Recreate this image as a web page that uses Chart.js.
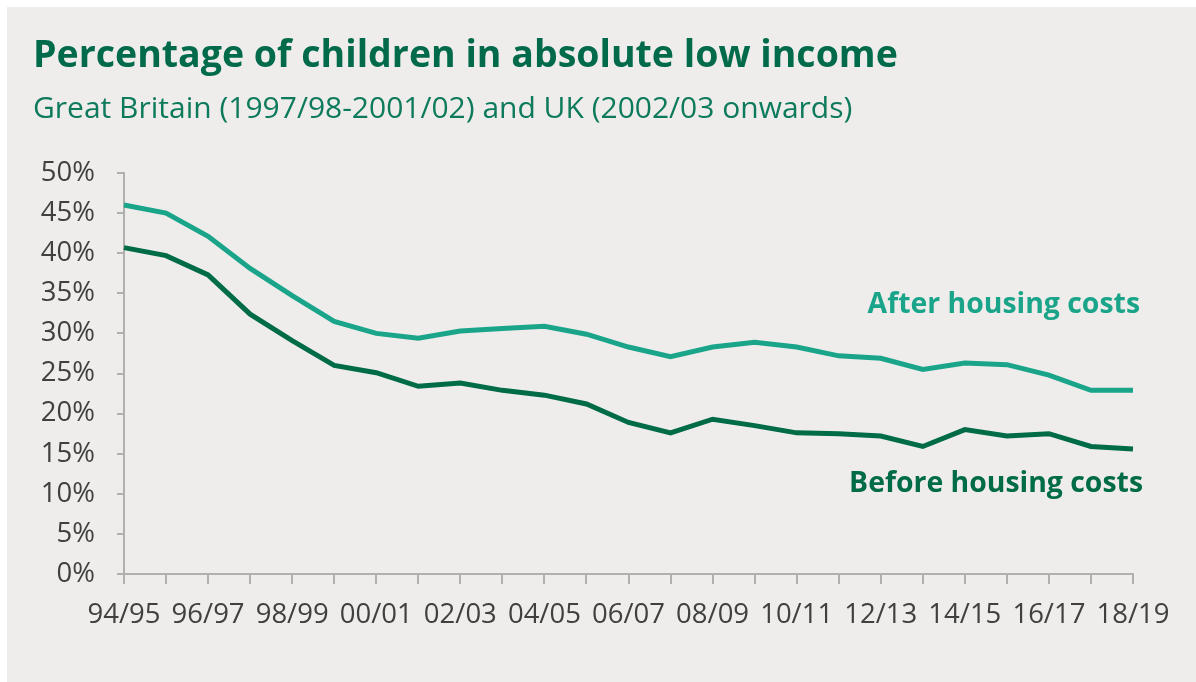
<!DOCTYPE html>
<html>
<head>
<meta charset="utf-8">
<script src="https://cdn.jsdelivr.net/npm/chart.js@4"></script>
<style>
    html, body { margin: 0; padding: 0; background: #ffffff; }
    #wrap { width: 1196px; height: 682px; position: relative; }
</style>
</head>
<body>
<div id="wrap"><canvas id="povertyChart" width="1196" height="682"></canvas></div>
<script>
const years = ['94/95', '95/96', '96/97', '97/98', '98/99', '99/00', '00/01', '01/02', '02/03', '03/04',
    '04/05', '05/06', '06/07', '07/08', '08/09', '09/10', '10/11', '11/12', '12/13', '13/14',
    '14/15', '15/16', '16/17', '17/18', '18/19'];
const afterHousingCosts = [46.0, 45.0, 42.1, 38.1, 34.7, 31.5, 30.0, 29.4, 30.3, 30.6,
    30.9, 29.9, 28.3, 27.1, 28.3, 28.9, 28.3, 27.2, 26.9, 25.5,
    26.3, 26.1, 24.8, 22.9, 22.9];
const beforeHousingCosts = [40.7, 39.7, 37.3, 32.4, 29.1, 26.0, 25.1, 23.4, 23.8, 22.9,
    22.3, 21.2, 18.9, 17.6, 19.3, 18.5, 17.6, 17.5, 17.2, 15.9,
    18.0, 17.2, 17.5, 15.9, 15.6];
const yTicks = [0, 5, 10, 15, 20, 25, 30, 35, 40, 45, 50];

const teal = '#1aa58a';
const darkGreen = '#006b47';
const axisGrey = '#b0b0b0';

const panelPlugin = {
    id: 'panel',
    beforeDraw(chart) {
        const ctx = chart.ctx;
        ctx.save();
        ctx.fillStyle = '#ffffff';
        ctx.fillRect(0, 0, chart.width, chart.height);
        ctx.fillStyle = '#eeedeb';
        ctx.fillRect(7, 7, chart.width - 7, chart.height - 7);
        ctx.restore();
    }
};

const textPlugin = {
    id: 'texts',
    afterDraw(chart) {
        const ctx = chart.ctx;
        ctx.save();
        ctx.textBaseline = 'alphabetic';

        ctx.textAlign = 'left';
        ctx.fillStyle = '#006a4b';
        ctx.font = 'bold 37.5px "Open Sans"';
        ctx.fillText('Percentage of children in absolute low income', 33, 67);

        ctx.fillStyle = '#0d7a5c';
        ctx.font = '30px "Open Sans"';
        ctx.fillText('Great Britain (1997/98-2001/02) and UK (2002/03 onwards)', 33, 118);

        ctx.textAlign = 'right';
        ctx.font = 'bold 28.4px "Open Sans"';
        ctx.fillStyle = teal;
        ctx.fillText('After housing costs', 1140, 313);
        ctx.fillStyle = darkGreen;
        ctx.fillText('Before housing costs', 1143, 492);
        ctx.restore();
    }
};

new Chart(document.getElementById('povertyChart'), {
    type: 'line',
    data: {
        labels: years,
        datasets: [
            {
                label: 'After housing costs',
                data: afterHousingCosts,
                borderColor: teal,
                borderWidth: 5,
                pointRadius: 0,
                tension: 0
            },
            {
                label: 'Before housing costs',
                data: beforeHousingCosts,
                borderColor: darkGreen,
                borderWidth: 5,
                pointRadius: 0,
                tension: 0
            }
        ]
    },
    options: {
        responsive: false,
        animation: false,
        layout: { padding: { top: 173, right: 63, left: 0, bottom: 0 } },
        plugins: {
            legend: { display: false },
            tooltip: { enabled: false }
        },
        scales: {
            x: {
                offset: false,
                border: { color: axisGrey, width: 2 },
                grid: { drawOnChartArea: false, drawTicks: true, tickLength: 10, color: axisGrey, lineWidth: 2 },
                ticks: {
                    autoSkip: false,
                    maxRotation: 0,
                    padding: 15,
                    color: '#404040',
                    font: { family: 'Open Sans', size: 27.5 },
                    callback: (value, index) => index % 2 === 0 ? years[index] : ''
                },
                afterFit: (scale) => { scale.height = 108; }
            },
            y: {
                min: yTicks[0],
                max: yTicks[yTicks.length - 1],
                border: { color: axisGrey, width: 2 },
                grid: { drawOnChartArea: false, drawTicks: true, tickLength: 7, color: axisGrey, lineWidth: 2 },
                afterBuildTicks: (scale) => { scale.ticks = yTicks.map(v => ({ value: v })); },
                ticks: {
                    padding: 22,
                    color: '#404040',
                    font: { family: 'Open Sans', size: 27.5 },
                    callback: (value) => value + '%'
                },
                afterFit: (scale) => { scale.width = 124; }
            }
        }
    },
    plugins: [panelPlugin, textPlugin]
});
</script>
</body>
</html>
